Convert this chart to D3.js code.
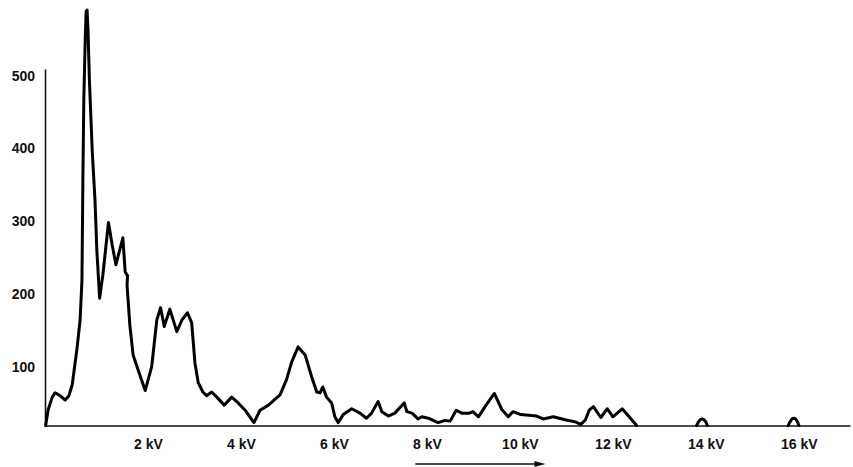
<!DOCTYPE html>
<html>
<head>
<meta charset="utf-8">
<script src="https://cdn.jsdelivr.net/npm/d3@7"></script>
<style>
  body { margin: 0; background: #fff; }
  svg { display: block; }
  .axis text { font-family: "Liberation Sans", Arial, sans-serif; font-size: 14px; font-weight: bold; fill: #111; }
  .axis path { stroke: #111; stroke-width: 1.6; }
  .spectrum { fill: none; stroke: #000; stroke-width: 3; stroke-linejoin: round; stroke-linecap: round; }
</style>
</head>
<body>
<svg id="chart"></svg>
<script>
// energy (kV) and counts; null = pen lifted
const energyKV = [
  -0.20, -0.15, -0.06, 0.00, 0.11, 0.22, 0.30, 0.37, 0.47, 0.54, 0.58, 0.60, 0.62, 0.65, 0.67, 0.69,
  0.71, 0.74, 0.80, 0.86, 0.90, 0.96, 1.03, 1.15, 1.23, 1.31, 1.46, 1.51, 1.56, 1.55, 1.61, 1.68,
  1.79, 1.94, 2.08, 2.19, 2.27, 2.35, 2.47, 2.62, 2.73, 2.85, 2.94, 3.01, 3.08, 3.18, 3.26, 3.37,
  3.48, 3.64, 3.80, 3.94, 4.09, 4.19, 4.28, 4.41, 4.59, 4.84, 4.98, 5.09, 5.23, 5.38, 5.52, 5.63,
  5.70, 5.76, 5.84, 5.95, 6.02, 6.09, 6.20, 6.38, 6.56, 6.70, 6.81, 6.95, 7.03, 7.17, 7.31, 7.51,
  7.57, 7.68, 7.81, 7.89, 8.03, 8.24, 8.39, 8.50, 8.63, 8.75, 8.91, 8.99, 9.11, 9.25, 9.45, 9.61,
  9.75, 9.85, 10.02, 10.36, 10.50, 10.72, 10.97, 11.19, 11.31, 11.41, 11.49, 11.58, 11.74, 11.88, 12.00, 12.20,
  12.35, 12.51,
  13.0,
  13.80, 13.84, 13.88, 13.92, 13.96, 14.00, 14.03,
  15.0,
  15.77, 15.81, 15.85, 15.89, 15.93, 15.97, 16.00
];
const counts = [
  19, 40, 58, 64, 60, 54, 60, 75, 123, 164, 219, 357, 467, 549, 588, 590,
  563, 494, 398, 329, 260, 194, 226, 298, 267, 240, 277, 230, 225, 212, 157, 116,
  95, 67, 100, 164, 181, 155, 179, 148, 164, 174, 160, 105, 78, 65, 60, 65,
  58, 47, 58, 50, 40, 31, 23, 40, 47, 61, 82, 106, 127, 116, 86, 65,
  64, 72, 58, 50, 31, 23, 34, 42, 36, 29, 36, 52, 38, 32, 36, 50,
  38, 36, 28, 31, 29, 23, 26, 25, 40, 36, 36, 38, 31, 45, 63, 41,
  31, 38, 34, 32, 28, 31, 27, 24, 20.5, 27, 40, 45, 30, 42, 31, 42,
  31, 19,
  null,
  19, 24, 27, 28, 27, 24, 19,
  null,
  19, 24, 28, 29, 28, 24, 19
];

const xTicks = [2, 4, 6, 8, 10, 12, 14, 16];
const yTicks = [100, 200, 300, 400, 500];
const arrowKV = [7.75, 10.55];

class SpectrumChart {
  constructor(_config, _x, _y) {
    this.config = {
      parentElement: _config.parentElement,
      containerWidth: _config.containerWidth || 853,
      containerHeight: _config.containerHeight || 467
    };
    this.data = _x.map((d, i) => ({ kv: d, c: _y[i] }));
    this.initVis();
  }

  initVis() {
    let vis = this;

    vis.svg = d3.select(vis.config.parentElement)
      .attr('width', vis.config.containerWidth)
      .attr('height', vis.config.containerHeight);

    // scales fitted to the printed label positions
    vis.xScale = d3.scaleLinear()
      .domain([-0.215, 17.1])
      .range([45, 850]);

    vis.yScale = d3.scaleLinear()
      .domain([19, 509])
      .range([425.5, 69]);

    vis.xAxis = d3.axisBottom(vis.xScale)
      .tickValues(xTicks)
      .tickSize(0)
      .tickPadding(14)
      .tickFormat(d => d + ' kV');

    vis.yAxis = d3.axisLeft(vis.yScale)
      .tickValues(yTicks)
      .tickSize(0)
      .tickPadding(10);

    vis.xAxisG = vis.svg.append('g')
      .attr('class', 'axis x-axis')
      .attr('transform', `translate(0,${vis.yScale(19)})`);

    vis.yAxisG = vis.svg.append('g')
      .attr('class', 'axis y-axis')
      .attr('transform', `translate(${vis.xScale(-0.215)},0)`);

    vis.updateVis();
  }

  updateVis() {
    let vis = this;

    vis.line = d3.line()
      .defined(d => d.c !== null)
      .x(d => vis.xScale(d.kv))
      .y(d => vis.yScale(d.c));

    vis.renderVis();
  }

  renderVis() {
    let vis = this;

    vis.xAxisG.call(vis.xAxis);
    vis.yAxisG.call(vis.yAxis);
    vis.xAxisG.selectAll('text').attr('text-anchor', 'middle');

    vis.svg.append('path')
      .datum(vis.data)
      .attr('class', 'spectrum')
      .attr('d', vis.line);

    // arrow under the axis
    const ay = 464;
    const x0 = vis.xScale(arrowKV[0]), x1 = vis.xScale(arrowKV[1]);
    vis.svg.append('line')
      .attr('x1', x0).attr('x2', x1 - 8)
      .attr('y1', ay).attr('y2', ay)
      .attr('stroke', '#111')
      .attr('stroke-width', 1.5);
    vis.svg.append('path')
      .attr('d', `M${x1},${ay} L${x1 - 11},${ay - 3} L${x1 - 11},${ay + 3} Z`)
      .attr('fill', '#111');
  }
}

new SpectrumChart({ parentElement: '#chart' }, energyKV, counts);
</script>
</body>
</html>
